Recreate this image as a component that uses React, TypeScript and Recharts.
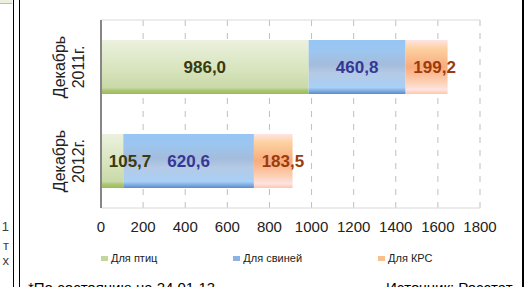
import React from 'react';
import {
  BarChart,
  Bar,
  XAxis,
  YAxis,
  CartesianGrid,
  Legend,
  LabelList
} from 'recharts';

const periods = ['Декабрь 2011г.', 'Декабрь 2012г.'];
const poultry = [986.0, 105.7];
const pigs = [460.8, 620.6];
const cattle = [199.2, 183.5];
const xTicks = [0, 200, 400, 600, 800, 1000, 1200, 1400, 1600, 1800];

const series = [
  { key: 'poultry', name: 'Для птиц', marker: '#c3d69b', label: '#3a3a0e', grad: 'gPoultry' },
  { key: 'pigs', name: 'Для свиней', marker: '#8db3e2', label: '#363696', grad: 'gPigs' },
  { key: 'cattle', name: 'Для КРС', marker: '#fabf8f', label: '#9c3c0c', grad: 'gCattle' }
];

const data = periods.map((p, i) => ({
  period: p,
  poultry: poultry[i],
  pigs: pigs[i],
  cattle: cattle[i]
}));

const FONT = '"Liberation Sans", Arial, sans-serif';

const fmt = (v: number) => v.toFixed(1).replace('.', ',');

const makeLabel = (color: string) => (p: any) => {
  const { x, y, width, height, value } = p;
  const text = fmt(Number(value));
  const tw = text.length * 8.8;
  const cx = Math.max(x + width / 2, x + 7 + tw / 2);
  return (
    <text
      x={cx}
      y={y + height / 2}
      textAnchor="middle"
      dominantBaseline="central"
      fill={color}
      fontSize={17}
      fontWeight="bold"
      fontFamily={FONT}
    >
      {text}
    </text>
  );
};

const PeriodTick = (p: any) => {
  const { x, y, payload } = p;
  const parts = String(payload.value).split(' ');
  return (
    <g transform={`translate(${x},${y}) rotate(-90)`}>
      <text textAnchor="middle" fill="#222" fontSize={16} fontFamily={FONT}>
        <tspan x={0} y={-36}>{parts[0]}</tspan>
        <tspan x={0} y={-17}>{parts[1]}</tspan>
      </text>
    </g>
  );
};

// legend in the series order, not the one recharts hands over
const LegendContent = () => (
  <div style={{ display: 'flex', alignItems: 'center', fontFamily: FONT, fontSize: 11, color: '#222', whiteSpace: 'nowrap' }}>
    {series.map((s) => (
      <div key={s.key} style={{ display: 'flex', alignItems: 'center', marginRight: 76, flexShrink: 0 }}>
        <span style={{ width: 7, height: 5, background: s.marker, marginRight: 3, display: 'inline-block' }} />
        <span>{s.name}</span>
      </div>
    ))}
  </div>
);

export default function App() {
  return (
    <div
      style={{
        position: 'fixed',
        left: 0,
        top: 0,
        width: 528,
        height: 287,
        overflow: 'hidden',
        background: '#fff',
        fontFamily: FONT
      }}
    >
      <div style={{ position: 'absolute', left: 0, top: 0, width: 12, height: 3, background: '#ebf1de', borderBottom: '1px solid #b5c98e' }} />
      <div style={{ position: 'absolute', left: 13, top: 0, width: 1, height: 287, background: '#000' }} />
      <div style={{ position: 'absolute', left: 19, top: 0, width: 1, height: 287, background: '#000' }} />
      <div style={{ position: 'absolute', left: 522, top: 0, width: 2, height: 287, background: '#000' }} />

      <div style={{ position: 'absolute', left: 0, width: 9, textAlign: 'right', top: 219, fontSize: 13, lineHeight: '15px', color: '#404040' }}>1</div>
      <div style={{ position: 'absolute', left: 0, width: 9, textAlign: 'right', top: 238, fontSize: 13, lineHeight: '15px', color: '#404040' }}>т</div>
      <div style={{ position: 'absolute', left: 0, width: 9, textAlign: 'right', top: 253, fontSize: 13, lineHeight: '15px', color: '#404040' }}>х</div>

      <div style={{ position: 'absolute', left: 28, top: 279, fontSize: 15, lineHeight: '17px', color: '#000', whiteSpace: 'nowrap' }}>
        *По состоянию на 24.01.13
      </div>
      <div style={{ position: 'absolute', left: 386, top: 279, fontSize: 15, lineHeight: '17px', color: '#000', whiteSpace: 'nowrap' }}>
        Источник: Росстат
      </div>

      <div style={{ position: 'absolute', left: 0, top: 0 }}>
        <BarChart
          width={528}
          height={287}
          data={data}
          layout="vertical"
          margin={{ top: 20, right: 48, left: 0, bottom: 49 }}
        >
          <defs>
            <linearGradient id="gPoultry" x1="0" y1="0" x2="0" y2="1">
              <stop offset="0%" stopColor="#ebf1de" />
              <stop offset="55%" stopColor="#d7e4bd" />
              <stop offset="88%" stopColor="#c9d9a8" />
              <stop offset="94%" stopColor="#a9c46f" />
              <stop offset="100%" stopColor="#9bbb59" />
            </linearGradient>
            <linearGradient id="gPigs" x1="0" y1="0" x2="0" y2="1">
              <stop offset="0%" stopColor="#96c5f5" />
              <stop offset="20%" stopColor="#9dc6f0" />
              <stop offset="45%" stopColor="#a3bcdc" />
              <stop offset="62%" stopColor="#b4cae6" />
              <stop offset="88%" stopColor="#a8d0f6" />
              <stop offset="100%" stopColor="#5a8bd0" />
            </linearGradient>
            <linearGradient id="gCattle" x1="0" y1="0" x2="0" y2="1">
              <stop offset="0%" stopColor="#fde4e6" />
              <stop offset="15%" stopColor="#fdd2a2" />
              <stop offset="50%" stopColor="#f9ab7c" />
              <stop offset="80%" stopColor="#fcd3b9" />
              <stop offset="92%" stopColor="#fde3e6" />
              <stop offset="100%" stopColor="#fdc8a4" />
            </linearGradient>
          </defs>
          <CartesianGrid vertical horizontal={false} stroke="#bfbfbf" strokeDasharray="6 7" />
          <CartesianGrid
            vertical={false}
            horizontal
            stroke="#d9d9d9"
            horizontalCoordinatesGenerator={(props: any) => [props.offset.top]}
          />
          <XAxis
            type="number"
            domain={[0, 1800]}
            ticks={xTicks}
            interval={0}
            height={30}
            axisLine={{ stroke: '#d9d9d9' }}
            tickLine={false}
            tickSize={0}
            tickMargin={13}
            tick={{ fontSize: 15, fill: '#222', fontFamily: FONT }}
          />
          <YAxis
            type="category"
            dataKey="period"
            width={101}
            axisLine={{ stroke: '#868686', strokeWidth: 2 }}
            tickLine={false}
            tickSize={0}
            tickMargin={0}
            tick={<PeriodTick />}
          />
          <Legend
            layout="horizontal"
            verticalAlign="middle"
            align="center"
            content={<LegendContent />}
            wrapperStyle={{ left: 101, top: 252, width: 420 }}
          />
          {series.map((s) => (
            <Bar
              key={s.key}
              dataKey={s.key}
              name={s.name}
              stackId="a"
              fill={`url(#${s.grad})`}
              barSize={54}
              isAnimationActive={false}
            >
              <LabelList dataKey={s.key} content={makeLabel(s.label)} />
            </Bar>
          ))}
        </BarChart>
      </div>
    </div>
  );
}
